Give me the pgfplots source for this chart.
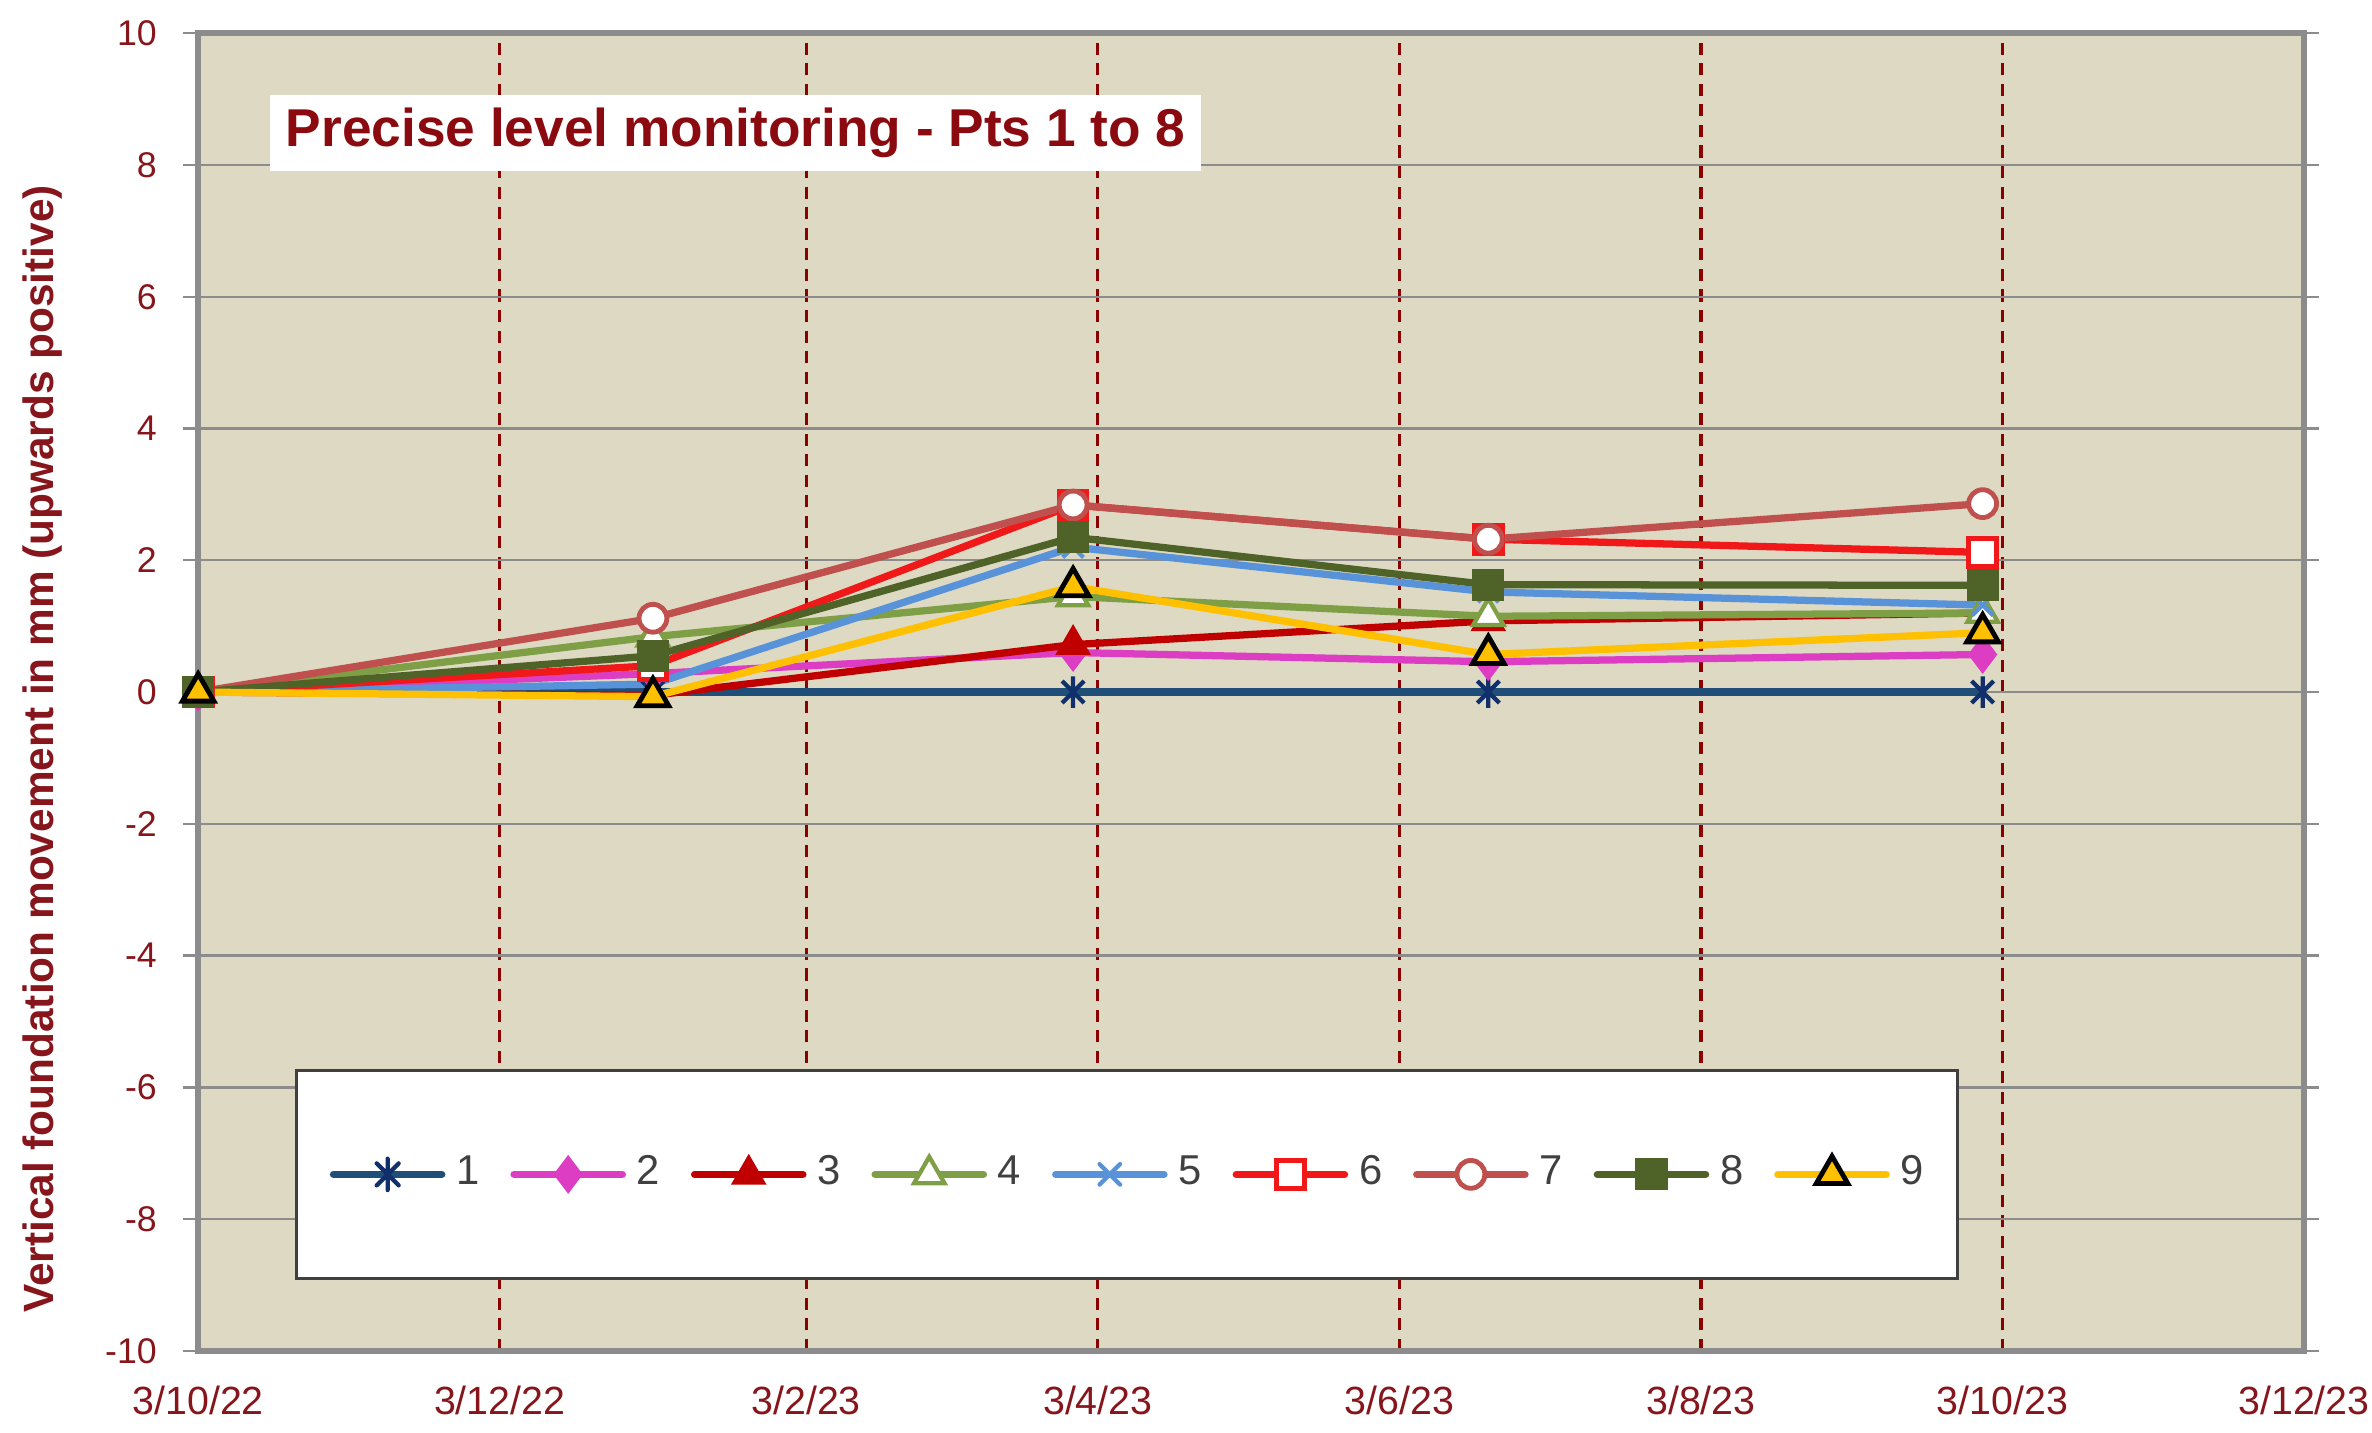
\documentclass[border=0pt]{standalone}
\usepackage{fontspec}
\setmainfont{Liberation Sans}
\usepackage{pgfplots}
\pgfplotsset{compat=1.18}
\definecolor{bgtan}{HTML}{DDD9C3}
\definecolor{maroonlab}{HTML}{86161C}
\definecolor{titlered}{HTML}{8B0A0F}
\definecolor{gridred}{HTML}{8B0000}
\definecolor{c1}{HTML}{1F4E79}
\definecolor{c1m}{HTML}{102F6B}
\definecolor{c2}{HTML}{DC3DC2}
\definecolor{c3}{HTML}{C00000}
\definecolor{c4}{HTML}{7F9F46}
\definecolor{c5}{HTML}{5892D8}
\definecolor{c6}{HTML}{F01818}
\definecolor{c7}{HTML}{C0504D}
\definecolor{c8}{HTML}{4F6228}
\definecolor{c9}{HTML}{FFC000}
\pgfdeclareplotmark{xstar}{%
  \pgfpathmoveto{\pgfqpoint{0pt}{\pgfplotmarksize}}%
  \pgfpathlineto{\pgfqpoint{0pt}{-\pgfplotmarksize}}%
  \pgfpathmoveto{\pgfqpoint{-0.7\pgfplotmarksize}{0.7\pgfplotmarksize}}%
  \pgfpathlineto{\pgfqpoint{0.7\pgfplotmarksize}{-0.7\pgfplotmarksize}}%
  \pgfpathmoveto{\pgfqpoint{-0.7\pgfplotmarksize}{-0.7\pgfplotmarksize}}%
  \pgfpathlineto{\pgfqpoint{0.7\pgfplotmarksize}{0.7\pgfplotmarksize}}%
  \pgfusepathqstroke}
\begin{document}
\begin{tikzpicture}
\begin{axis}[name=ax, scale only axis, width=348pt, height=217.75pt,
 xmin=0, xmax=426, ymin=-10, ymax=10,
 xtick={0,61,123,182,243,304,365,426},
 xticklabels={3/10/22,3/12/22,3/2/23,3/4/23,3/6/23,3/8/23,3/10/23,3/12/23},
 ytick={-10,-8,-6,-4,-2,0,2,4,6,8,10},
 yticklabels={-10,-8,-6,-4,-2,0,2,4,6,8,10},
 axis background/.style={fill=bgtan},
 axis line style={draw=black!45, line width=1pt},
 xmajorgrids, ymajorgrids,
 x grid style={draw=gridred, dash pattern=on 2pt off 1.4pt, line width=0.55pt},
 y grid style={draw=black!45, line width=0.4pt},
 tick align=outside,
 xtick style={draw=none},
 ytick style={draw=black!45, line width=0.4pt},
 major tick length=2.5pt,
 xticklabel style={font=\fontsize{6.5}{7}\selectfont, text=maroonlab, yshift=0.25pt},
 yticklabel style={font=\fontsize{5.9}{7}\selectfont, text=maroonlab, xshift=-0.8pt},
 clip=false,
 legend columns=9,
 legend style={at={(rel axis cs:0.046,0.054)}, anchor=south west, draw=black!75, line width=0.5pt, fill=white,
   inner xsep=5.5pt, inner ysep=14pt, font=\fontsize{6.9}{7}\selectfont, text=black!75,
   nodes={inner sep=0pt}, column sep=1.8pt, /tikz/every even column/.append style={column sep=5.1pt}},
 legend image code/.code={\draw[mark repeat=2,mark phase=2,line cap=round] plot coordinates {(0pt,0pt)(8.95pt,0pt)(17.9pt,0pt)};},
]
\addplot[color=c1, line width=1.2pt, mark=xstar, mark size=2.6pt, mark options={solid, draw=c1m, line width=0.7pt}]
 coordinates {(0,0)(92,0)(177,0)(261,0)(361,0)};
\addlegendentry{1}
\addplot[color=c2, line width=1.2pt, mark=diamond*, mark size=2.8pt, mark options={solid, fill=c2, draw=c2, line width=0.5pt}]
 coordinates {(0,0)(92,0.28)(177,0.60)(261,0.46)(361,0.57)};
\addlegendentry{2}
\addplot[color=c3, line width=1.2pt, mark=triangle*, mark size=2.9pt, mark options={solid, fill=c3, draw=c3, line width=0.5pt}]
 coordinates {(0,0)(92,-0.05)(177,0.72)(261,1.08)(361,1.20)};
\addlegendentry{3}
\addplot[color=c4, line width=1.2pt, mark=triangle*, mark size=2.9pt, mark options={solid, fill=white, draw=c4, line width=0.7pt}]
 coordinates {(0,0)(92,0.84)(177,1.45)(261,1.15)(361,1.20)};
\addlegendentry{4}
\addplot[color=c5, line width=1.2pt, mark=x, mark size=2.4pt, mark options={solid, draw=c5, line width=0.7pt}]
 coordinates {(0,0)(92,0.12)(177,2.20)(261,1.52)(361,1.32)};
\addlegendentry{5}
\addplot[color=c6, line width=1.2pt, mark=square*, mark size=2.3pt, mark options={solid, fill=white, draw=c6, line width=0.8pt}]
 coordinates {(0,0)(92,0.40)(177,2.84)(261,2.32)(361,2.12)};
\addlegendentry{6}
\addplot[color=c7, line width=1.2pt, mark=*, mark size=2.3pt, mark options={solid, fill=white, draw=c7, line width=0.8pt}]
 coordinates {(0,0)(92,1.12)(177,2.84)(261,2.32)(361,2.86)};
\addlegendentry{7}
\addplot[color=c8, line width=1.2pt, mark=square*, mark size=2.4pt, mark options={solid, fill=c8, draw=c8, line width=0.5pt}]
 coordinates {(0,0)(92,0.55)(177,2.35)(261,1.63)(361,1.62)};
\addlegendentry{8}
\addplot[color=c9, line width=1.2pt, mark=triangle*, mark size=3pt, mark options={solid, fill=c9, draw=black, line width=0.8pt}]
 coordinates {(0,0)(92,-0.07)(177,1.60)(261,0.57)(361,0.90)};
\addlegendentry{9}
\end{axis}
\node[anchor=north west, fill=white, minimum width=153.75pt, minimum height=12.5pt, inner sep=0pt,
  text=titlered, font=\bfseries\fontsize{8.8}{10}\selectfont]
  at ([shift={(11.75pt,-10pt)}]ax.north west) {Precise level monitoring - Pts 1 to 8};
\node[rotate=90, text=maroonlab, font=\bfseries\fontsize{7}{8}\selectfont]
  at ([shift={(-25.75pt,-9.4pt)}]ax.west) {Vertical foundation movement in mm (upwards positive)};
\pgfresetboundingbox
\path[use as bounding box] ([shift={(-32.75pt,-13.5pt)}]ax.south west) rectangle ([shift={(11.25pt,5.5pt)}]ax.north east);
\end{tikzpicture}
\end{document}
